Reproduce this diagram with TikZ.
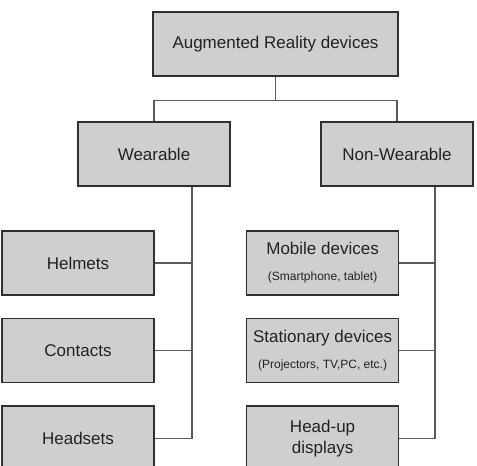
\documentclass[tikz,border=0pt]{standalone}
\usepackage{fontspec}
\setmainfont{Liberation Sans}
\usetikzlibrary{positioning}
\definecolor{ARFill}{HTML}{CFCFCF}
\definecolor{AREdge}{HTML}{303030}
\definecolor{ARLine}{HTML}{5A5A5A}
\definecolor{ARText}{HTML}{222222}
\newcommand{\arsmall}{\fontsize{12}{14}\selectfont}

\begin{document}
\begin{tikzpicture}[x=1pt,y=1pt,node distance=22pt]
  \tikzstyle{cat}=[draw=AREdge,fill=ARFill,line width=1.6pt,text=ARText,
    minimum width=152pt,minimum height=64pt,align=center,inner sep=0pt,
    font=\fontsize{17}{21}\selectfont]
  \tikzstyle{link}=[draw=ARLine,line width=1.3pt]
  \useasboundingbox[fill=white] (0,0) rectangle (477,-466);
  \node[cat,minimum width=245pt] (ar) at (275.5,-44) {Augmented Reality devices};
  \node[cat] (wear) at (154,-154) {Wearable};
  \node[cat] (nonwear) at (397,-154) {Non-Wearable};
  \node[cat] (helmets) at (78,-263) {Helmets};
  \node[cat,below=of helmets] (contacts) {Contacts};
  \node[cat,below=of contacts] (headsets) {Headsets};
  \node[cat,right=91pt of helmets] (mobile) {Mobile devices\\[5pt]{\arsmall(Smartphone, tablet)}};
  \node[cat,below=of mobile] (stat) {Stationary devices\\[5pt]{\arsmall(Projectors, TV,PC, etc.)}};
  \node[cat,below=of stat] (hud) {Head-up\\displays};
  % tree lines
  \draw[link] (ar.south) -- ++(0,-24) coordinate (j);
  \draw[link] (wear.north) |- (j) -| (nonwear.north);
  \draw[link] ([xshift=38pt]wear.south) coordinate (w) |- (headsets.east);
  \draw[link] (helmets.east) -- (helmets.east -| w);
  \draw[link] (contacts.east) -- (contacts.east -| w);
  \draw[link] ([xshift=38pt]nonwear.south) coordinate (n) |- (hud.east);
  \draw[link] (mobile.east) -- (mobile.east -| n);
  \draw[link] (stat.east) -- (stat.east -| n);
\end{tikzpicture}
\end{document}
